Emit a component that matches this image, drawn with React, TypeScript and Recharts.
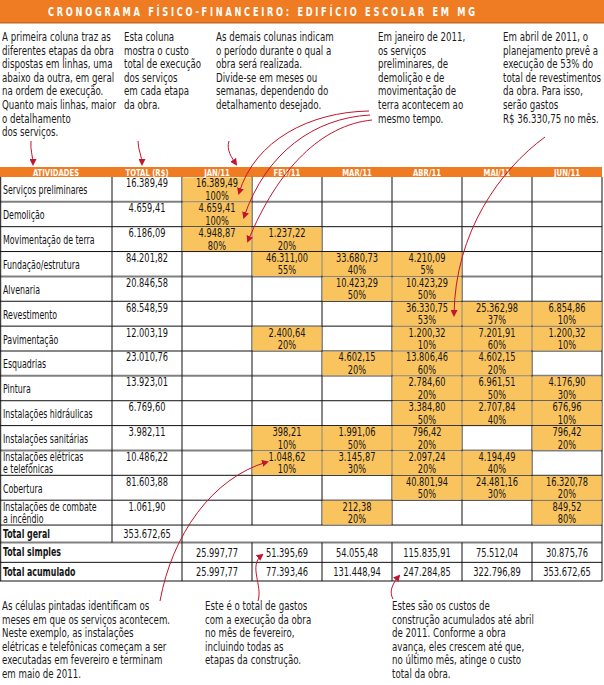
import React from 'react';
import { ComposedChart, XAxis, YAxis, Scatter, ReferenceLine, ReferenceArea } from 'recharts';

// ---------- DATA ----------
const title = 'CRONOGRAMA FÍSICO-FINANCEIRO: EDIFÍCIO ESCOLAR EM MG';
const headerLabels = ['ATIVIDADES', 'TOTAL (R$)', 'JAN/11', 'FEV/11', 'MAR/11', 'ABR/11', 'MAI/11', 'JUN/11'];
const activities = [
  'Serviços preliminares',
  'Demolição',
  'Movimentação de terra',
  'Fundação/estrutura',
  'Alvenaria',
  'Revestimento',
  'Pavimentação',
  'Esquadrias',
  'Pintura',
  'Instalações hidráulicas',
  'Instalações sanitárias',
  'Instalações elétricas\ne telefônicas',
  'Cobertura',
  'Instalações de combate\na incêndio',
];
const activityTotals = [
  16389.49, 4659.41, 6186.09, 84201.82, 20846.58, 68548.59, 12003.19,
  23010.76, 13923.01, 6769.6, 3982.11, 10486.22, 81603.88, 1061.9,
];
const cellValues: (number | null)[][] = [
  [16389.49, null, null, null, null, null],
  [4659.41, null, null, null, null, null],
  [4948.87, 1237.22, null, null, null, null],
  [null, 46311.0, 33680.73, 4210.09, null, null],
  [null, null, 10423.29, 10423.29, null, null],
  [null, null, null, 36330.75, 25362.98, 6854.86],
  [null, 2400.64, null, 1200.32, 7201.91, 1200.32],
  [null, null, 4602.15, 13806.46, 4602.15, null],
  [null, null, null, 2784.6, 6961.51, 4176.9],
  [null, null, null, 3384.8, 2707.84, 676.96],
  [null, 398.21, 1991.06, 796.42, null, 796.42],
  [null, 1048.62, 3145.87, 2097.24, 4194.49, null],
  [null, null, null, 40801.94, 24481.16, 16320.78],
  [null, null, 212.38, null, null, 849.52],
];
const cellPercents: (number | null)[][] = [
  [100, null, null, null, null, null],
  [100, null, null, null, null, null],
  [80, 20, null, null, null, null],
  [null, 55, 40, 5, null, null],
  [null, null, 50, 50, null, null],
  [null, null, null, 53, 37, 10],
  [null, 20, null, 10, 60, 10],
  [null, null, 20, 60, 20, null],
  [null, null, null, 20, 50, 30],
  [null, null, null, 50, 40, 10],
  [null, 10, 50, 20, null, 20],
  [null, 10, 30, 20, 40, null],
  [null, null, null, 50, 30, 20],
  [null, null, 20, null, null, 80],
];
const totalGeral = 353672.65;
const totalSimples = [25997.77, 51395.69, 54055.48, 115835.91, 75512.04, 30875.76];
const totalAcumulado = [25997.77, 77393.46, 131448.94, 247284.85, 322796.89, 353672.65];

const notesTop = [
  'A primeira coluna traz as\ndiferentes etapas da obra\ndispostas em linhas, uma\nabaixo da outra, em geral\nna ordem de execução.\nQuanto mais linhas, maior\no detalhamento\ndos serviços.',
  'Esta coluna\nmostra o custo\ntotal de execução\ndos serviços\nem cada etapa\nda obra.',
  'As demais colunas indicam\no período durante o qual a\nobra será realizada.\nDivide-se em meses ou\nsemanas, dependendo do\ndetalhamento desejado.',
  'Em janeiro de 2011,\nos serviços\npreliminares, de\ndemolição e de\nmovimentação de\nterra acontecem ao\nmesmo tempo.',
  'Em abril de 2011, o\nplanejamento prevê a\nexecução de 53% do\ntotal de revestimentos\nda obra. Para isso,\nserão gastos\nR$ 36.330,75 no mês.',
];
const notesBottom = [
  'As células pintadas identificam os\nmeses em que os serviços acontecem.\nNeste exemplo, as instalações\nelétricas e telefônicas começam a ser\nexecutadas em fevereiro e terminam\nem maio de 2011.',
  'Este é o total de gastos\ncom a execução da obra\nno mês de fevereiro,\nincluindo todas as\netapas da construção.',
  'Estes são os custos de\nconstrução acumulados até abril\nde 2011. Conforme a obra\navança, eles crescem até que,\nno último mês, atinge o custo\ntotal da obra.',
];

// ---------- LAYOUT ----------
const W = 604;
const H = 685;
const M = { top: 167, right: 2, bottom: 104, left: 0 };
const XD: [number, number] = [-2.6, 6];
const YD: [number, number] = [-0.4, 16.25];
const COL_W = (W - M.left - M.right) / (XD[1] - XD[0]);
const ROW_H = (H - M.top - M.bottom) / (YD[1] - YD[0]);
const FONT = "'DejaVu Sans Condensed','DejaVu Sans',sans-serif";
const ORANGE = '#EF7B22';
const FILL = '#F9C35E';
const RED = '#C3132F';
const TXT = '#141414';
const Y_GERAL = [14, 14.7];
const Y_SIMPLES = [14.7, 15.5];
const Y_ACUM = [15.5, 16.25];
const SX = 0.8; // horizontal squeeze to imitate the condensed typeface

const fmt = (n: number) => {
  const [i, d] = n.toFixed(2).split('.');
  return i.replace(/\B(?=(\d{3})+(?!\d))/g, '.') + ',' + d;
};

// ---------- derived series ----------
const filledCells: any[] = [];
cellValues.forEach((row, r) =>
  row.forEach((v, m) => {
    if (v !== null) filledCells.push({ x: m + 0.5, y: r + 0.5, value: v, pct: cellPercents[r][m] });
  })
);
const activityRows = activities.map((a, r) => ({ x: XD[0], y: r + 0.5, label: a }));
const totalsCol = activityTotals.map((t, r) => ({ x: -0.5, y: r + 0.5, value: t }));
const headerRow = headerLabels.map((h, i) => ({
  x: i === 0 ? (XD[0] - 1) / 2 : i === 1 ? -0.5 : i - 2 + 0.5,
  y: -0.2,
  label: h,
}));
const summaryLabels = [
  { x: XD[0], y: (Y_GERAL[0] + Y_GERAL[1]) / 2, label: 'Total geral' },
  { x: XD[0], y: (Y_SIMPLES[0] + Y_SIMPLES[1]) / 2, label: 'Total simples' },
  { x: XD[0], y: (Y_ACUM[0] + Y_ACUM[1]) / 2, label: 'Total acumulado' },
];
const summaryValues = [
  { x: -0.5, y: (Y_GERAL[0] + Y_GERAL[1]) / 2, value: totalGeral },
  ...totalSimples.map((v, m) => ({ x: m + 0.5, y: (Y_SIMPLES[0] + Y_SIMPLES[1]) / 2, value: v })),
  ...totalAcumulado.map((v, m) => ({ x: m + 0.5, y: (Y_ACUM[0] + Y_ACUM[1]) / 2, value: v })),
];

// ---------- text helper ----------
const NText = ({ x, y, anchor = 'start', size = 11.5, weight = 'normal', fill = TXT, sx = SX, children }: any) => (
  <text
    transform={`translate(${x},${y}) scale(${sx},1)`}
    x={0}
    y={0}
    textAnchor={anchor}
    dominantBaseline="central"
    fontFamily={FONT}
    fontSize={size}
    fontWeight={weight}
    fill={fill}
  >
    {children}
  </text>
);

// ---------- shapes ----------
const CellShape = (p: any) => {
  const { cx, cy, payload } = p;
  const top = cy - ROW_H / 2;
  return (
    <g>
      <rect x={cx - COL_W / 2 + 0.5} y={top + 0.5} width={COL_W - 1} height={ROW_H - 1} fill={FILL} />
      <NText x={cx} y={top + 6} anchor="middle">{fmt(payload.value)}</NText>
      <NText x={cx} y={top + 18.5} anchor="middle">{payload.pct + '%'}</NText>
    </g>
  );
};

const ActivityShape = (p: any) => {
  const { cx, cy, payload } = p;
  const lines = String(payload.label).split('\n');
  return (
    <g>
      {lines.length === 1 ? (
        <NText x={cx + 3} y={cy + 1} sx={0.76}>{lines[0]}</NText>
      ) : (
        lines.map((l, i) => (
          <NText key={i} x={cx + 3} y={cy - ROW_H / 2 + 6.5 + i * 12.5} sx={0.76}>{l}</NText>
        ))
      )}
    </g>
  );
};

const TotalColShape = (p: any) => {
  const { cx, cy, payload } = p;
  return <NText x={cx} y={cy - ROW_H / 2 + 6} anchor="middle">{fmt(payload.value)}</NText>;
};

const HeaderShape = (p: any) => {
  const { cx, cy, payload } = p;
  return (
    <NText x={cx} y={cy + 0.5} anchor="middle" size={8.5} weight="bold" fill="#fff" sx={0.9}>
      {payload.label}
    </NText>
  );
};

const SummaryLabelShape = (p: any) => {
  const { cx, cy, payload } = p;
  return (
    <NText x={cx + 3} y={cy} weight="bold" sx={0.76}>
      {payload.label}
    </NText>
  );
};

const SummaryValueShape = (p: any) => {
  const { cx, cy, payload } = p;
  return <NText x={cx} y={cy} anchor="middle">{fmt(payload.value)}</NText>;
};

// ---------- grid lines ----------
type Seg = { x1: number; y1: number; x2: number; y2: number; gray?: boolean };
const grayRows = [1, 4, 8, 11];
const gridSegs: Seg[] = [];
for (let r = 1; r <= 14; r++) gridSegs.push({ x1: XD[0], y1: r, x2: XD[1], y2: r, gray: grayRows.includes(r) });
gridSegs.push({ x1: XD[0], y1: Y_SIMPLES[0], x2: XD[1], y2: Y_SIMPLES[0], gray: true });
gridSegs.push({ x1: XD[0], y1: Y_ACUM[0], x2: XD[1], y2: Y_ACUM[0] });
gridSegs.push({ x1: XD[0], y1: Y_ACUM[1], x2: XD[1], y2: Y_ACUM[1] });
gridSegs.push({ x1: XD[0] + 0.01, y1: 0, x2: XD[0] + 0.01, y2: Y_ACUM[1] });
gridSegs.push({ x1: -1, y1: 0, x2: -1, y2: Y_GERAL[1] });
gridSegs.push({ x1: 0, y1: 0, x2: 0, y2: Y_ACUM[1] });
for (let m = 1; m <= 5; m++) {
  gridSegs.push({ x1: m, y1: 0, x2: m, y2: 14 });
  gridSegs.push({ x1: m, y1: Y_SIMPLES[0], x2: m, y2: Y_ACUM[1] });
}
gridSegs.push({ x1: XD[1], y1: 0, x2: XD[1], y2: Y_ACUM[1] });

// ---------- overlay (title, notes, arrows) ----------
const noteStyle: React.CSSProperties = {
  position: 'absolute',
  fontFamily: FONT,
  fontSize: 12.5,
  lineHeight: '13.6px',
  color: '#1b1b1b',
  whiteSpace: 'pre',
  transform: 'scaleX(0.77)',
  transformOrigin: 'left top',
};
const topNoteX = [2, 124, 216, 378, 503];
const bottomNoteX = [2, 205, 392];

const arrows = [
  'M31,141 C30,150 33,156 33,164',
  'M138,141 C138,150 142,156 142,164',
  'M229,141 C226,150 232,158 236,164',
  'M369,111 C310,112 255,140 239,193',
  'M370,115 C315,118 266,152 244,217',
  'M372,120 C322,125 278,168 248,241',
  'M545,137 C500,170 455,232 454,315',
  'M160,601 C172,535 212,478 267,462',
  'M258,601 C263,585 248,566 262,555',
  'M393,599 C389,592 392,584 399,576',
];

export default function App() {
  return (
    <div style={{ position: 'absolute', left: 0, top: 0, width: W, height: H, background: '#fff', overflow: 'hidden' }}>
      <div style={{ position: 'absolute', left: 0, top: 0 }}>
        <ComposedChart width={W} height={H} margin={M}>
          <XAxis type="number" dataKey="x" domain={XD} hide allowDataOverflow height={0} />
          <YAxis type="number" dataKey="y" domain={YD} reversed hide allowDataOverflow width={0} />
          <ReferenceArea x1={XD[0]} x2={XD[1]} y1={YD[0]} y2={0} fill={ORANGE} fillOpacity={1} stroke="none" ifOverflow="visible" />
          <Scatter data={filledCells} shape={CellShape} isAnimationActive={false} />
          {gridSegs.map((s, i) => (
            <ReferenceLine
              key={i}
              segment={[{ x: s.x1, y: s.y1 }, { x: s.x2, y: s.y2 }]}
              stroke={s.gray ? '#808080' : '#111'}
              strokeWidth={s.gray ? 2 : 1}
              ifOverflow="visible"
            />
          ))}
          <Scatter data={headerRow} shape={HeaderShape} isAnimationActive={false} />
          <Scatter data={activityRows} shape={ActivityShape} isAnimationActive={false} />
          <Scatter data={totalsCol} shape={TotalColShape} isAnimationActive={false} />
          <Scatter data={summaryLabels} shape={SummaryLabelShape} isAnimationActive={false} />
          <Scatter data={summaryValues} shape={SummaryValueShape} isAnimationActive={false} />
        </ComposedChart>
      </div>
      <svg width={W} height={H} style={{ position: 'absolute', left: 0, top: 0, pointerEvents: 'none' }}>
        <defs>
          <marker id="ah" markerWidth="7" markerHeight="7" refX="5" refY="3.5" orient="auto" markerUnits="userSpaceOnUse">
            <path d="M0,0 L7,3.5 L0,7 Z" fill={RED} />
          </marker>
        </defs>
        <rect x={0} y={0} width={W} height={22} fill={ORANGE} />
        <rect x={0} y={22} width={W} height={1.5} fill="#c9651c" />
        <text
          transform="translate(48,15.5) scale(0.8,1)"
          x={0}
          y={0}
          textLength={427 / 0.8}
          lengthAdjust="spacing"
          fontFamily={FONT}
          fontWeight="bold"
          fontSize={11.5}
          fill="#fff"
        >
          {title}
        </text>
        {arrows.map((d, i) => (
          <path key={i} d={d} fill="none" stroke={RED} strokeWidth={1} markerEnd="url(#ah)" />
        ))}
      </svg>
      {notesTop.map((t, i) => (
        <div key={'t' + i} style={{ ...noteStyle, left: topNoteX[i], top: 30 }}>{t}</div>
      ))}
      {notesBottom.map((t, i) => (
        <div key={'b' + i} style={{ ...noteStyle, left: bottomNoteX[i], top: 599 }}>{t}</div>
      ))}
    </div>
  );
}
